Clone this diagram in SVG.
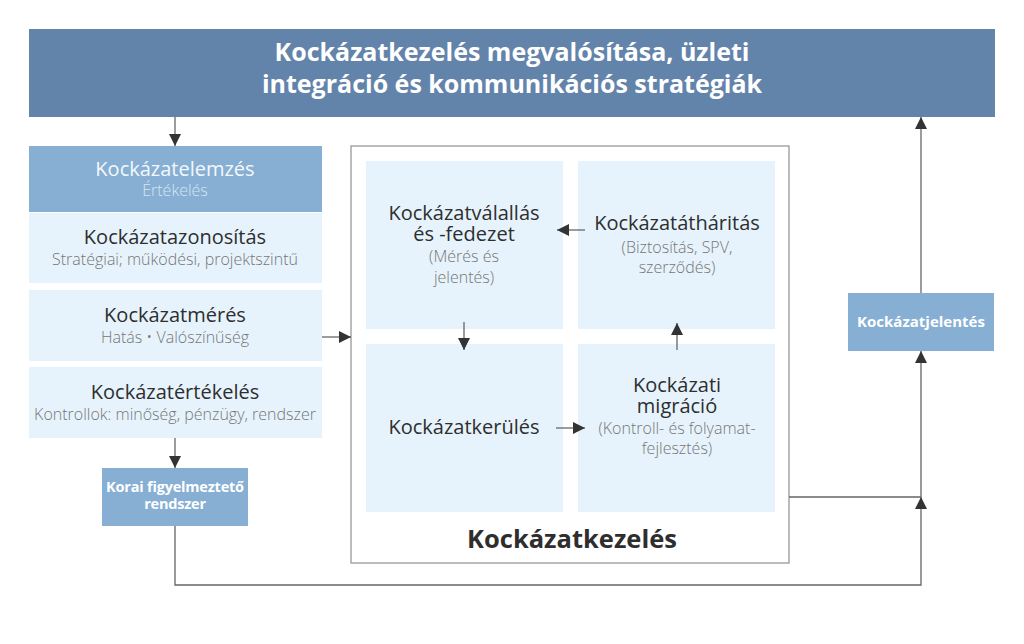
<svg xmlns="http://www.w3.org/2000/svg" width="1024" height="644" viewBox="0 0 1024 644">
<defs>
<marker id="ah" markerWidth="12" markerHeight="12" viewBox="0 0 12 12" refX="12" refY="6" orient="auto" markerUnits="userSpaceOnUse">
<path d="M0,0 L12,6 L0,12 Z" fill="#333"/>
</marker>
<style>
.t{font-family:"Open Sans","DejaVu Sans",sans-serif;text-anchor:middle}
.h{font-size:20px;fill:#2e2e2e}
.s{font-size:16px;fill:#767676;font-weight:300}
.b{font-weight:700;fill:#fff}
.lb{fill:#e6f3fc}
.mb{fill:#86afd3}
.ca{fill:none;stroke:#666;stroke-width:1.3;marker-end:url(#ah)}
</style>
</defs>
<rect width="1024" height="644" fill="#fff"/>

<g id="banner">
<rect x="29" y="29" width="966" height="88" fill="#6384aa"/>
<text class="t b" font-size="25"><tspan x="512" y="61">Kockázatkezelés megvalósítása, üzleti</tspan><tspan x="512" y="93">integráció és kommunikációs stratégiák</tspan></text>
</g>

<g id="elemzes">
<rect class="mb" x="29" y="146" width="293" height="66"/>
<text class="t"><tspan x="175" y="176" font-size="20" fill="#f4f8fc">Kockázatelemzés</tspan><tspan x="175" y="196" font-size="16" fill="#d6e5f2" font-weight="300">Értékelés</tspan></text>
</g>
<g id="azonositas">
<rect class="lb" x="29" y="213" width="293" height="70"/>
<text class="t"><tspan class="h" x="175" y="244">Kockázatazonosítás</tspan><tspan class="s" x="175" y="265">Stratégiai; működési, projektszintű</tspan></text>
</g>
<g id="meres">
<rect class="lb" x="29" y="290" width="293" height="71"/>
<text class="t"><tspan class="h" x="175" y="322">Kockázatmérés</tspan><tspan class="s" x="175" y="343">Hatás • Valószínűség</tspan></text>
</g>
<g id="ertekeles">
<rect class="lb" x="29" y="367" width="293" height="71"/>
<text class="t"><tspan class="h" x="175" y="399">Kockázatértékelés</tspan><tspan class="s" x="175" y="420">Kontrollok: minőség, pénzügy, rendszer</tspan></text>
</g>
<g id="korai">
<rect class="mb" x="102" y="468" width="146" height="58"/>
<text class="t b" font-size="14.5" letter-spacing="-0.2"><tspan x="175" y="492">Korai figyelmeztető</tspan><tspan x="175" y="509">rendszer</tspan></text>
</g>

<g id="kezeles">
<rect x="351" y="146" width="438" height="417" fill="#fff" stroke="#999" stroke-width="1.3"/>
<text class="t" x="572" y="548" font-size="25.5" font-weight="700" fill="#2e2e2e">Kockázatkezelés</text>
</g>
<g id="vallalas">
<rect class="lb" x="366" y="161" width="197" height="168"/>
<text class="t"><tspan class="h" x="464" y="220">Kockázatválallás</tspan><tspan class="h" x="464" y="241">és -fedezet</tspan><tspan class="s" x="464" y="262">(Mérés és</tspan><tspan class="s" x="464" y="283">jelentés)</tspan></text>
</g>
<g id="atharitas">
<rect class="lb" x="578" y="161" width="197" height="168"/>
<text class="t"><tspan class="h" x="677" y="230">Kockázatátháritás</tspan><tspan class="s" x="677" y="253">(Biztosítás, SPV,</tspan><tspan class="s" x="677" y="273">szerződés)</tspan></text>
</g>
<g id="kerules">
<rect class="lb" x="366" y="344" width="197" height="168"/>
<text class="t h" x="464" y="434">Kockázatkerülés</text>
</g>
<g id="migracio">
<rect class="lb" x="578" y="344" width="197" height="168"/>
<text class="t"><tspan class="h" x="677" y="392">Kockázati</tspan><tspan class="h" x="677" y="413">migráció</tspan><tspan class="s" x="677" y="434">(Kontroll- és folyamat-</tspan><tspan class="s" x="677" y="454">fejlesztés)</tspan></text>
</g>

<g id="jelentes">
<rect class="mb" x="848" y="293" width="146" height="58"/>
<text class="t b" x="921" y="327" font-size="15">Kockázatjelentés</text>
</g>

<g id="connectors">
<line class="ca" x1="175" y1="117" x2="175" y2="146"/>
<line class="ca" x1="175" y1="438" x2="175" y2="468"/>
<line class="ca" x1="322" y1="337" x2="351" y2="337"/>
<line class="ca" x1="585" y1="230" x2="557" y2="230"/>
<line class="ca" x1="464" y1="322" x2="464" y2="350"/>
<line class="ca" x1="677" y1="350" x2="677" y2="323"/>
<line class="ca" x1="556" y1="428" x2="585" y2="428"/>
<polyline class="ca" points="175,526 175,585 921,585 921,497"/>
<polyline class="ca" points="789,497 921,497 921,351"/>
<line class="ca" x1="921" y1="293" x2="921" y2="117"/>
</g>
</svg>
